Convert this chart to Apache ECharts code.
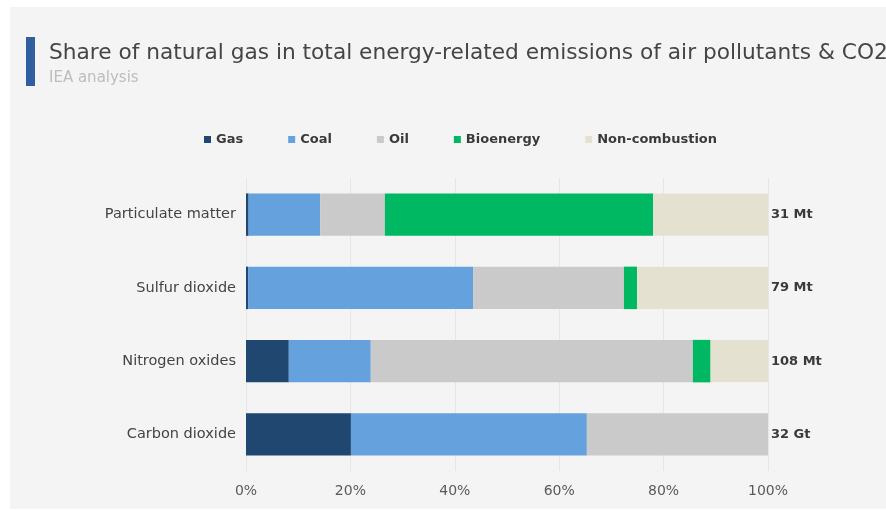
<!DOCTYPE html>
<html>
<head>
<meta charset="utf-8">
<script src="https://cdn.jsdelivr.net/npm/echarts@6/dist/echarts.min.js"></script>
<style>
  html, body { margin: 0; padding: 0; background: #ffffff; }
  #panel { position: absolute; left: 10px; top: 7px; width: 876px; height: 502px; background: #f4f4f4; }
  #chart { position: absolute; left: 0; top: 0; width: 886px; height: 510px; }
</style>
</head>
<body>
<div id="panel"></div>
<div id="chart"></div>
<script>
// Pollutants, top to bottom
const categories = ['Particulate matter', 'Sulfur dioxide', 'Nitrogen oxides', 'Carbon dioxide'];
// Share of each source in total emissions (%)
const gas = [0.5, 0.4, 8.2, 20.1];
const coal = [13.7, 43.1, 15.7, 45.2];
const oil = [12.4, 28.9, 61.7, 34.7];
const bioenergy = [51.4, 2.5, 3.4, 0];
const nonCombustion = [22.0, 25.1, 11.0, 0];
// Total emissions shown beside each bar
const totals = ['31 Mt', '79 Mt', '108 Mt', '32 Gt'];
const xTicks = [0, 20, 40, 60, 80, 100];

const FONT = 'DejaVu Sans';
const sources = [
  { name: 'Gas', data: gas, color: '#1f4770' },
  { name: 'Coal', data: coal, color: '#64a1dd' },
  { name: 'Oil', data: oil, color: '#cacaca' },
  { name: 'Bioenergy', data: bioenergy, color: '#00b862' },
  { name: 'Non-combustion', data: nonCombustion, color: '#e5e1d0' }
];

const chart = echarts.init(document.getElementById('chart'), null, { renderer: 'canvas' });
chart.setOption({
  backgroundColor: 'transparent',
  textStyle: { fontFamily: FONT },
  animation: false,
  title: {
    text: 'Share of natural gas in total energy-related emissions of air pollutants & CO2',
    subtext: 'IEA analysis',
    left: 44,
    top: 37,
    itemGap: 7,
    textStyle: { fontFamily: FONT, fontSize: 21.7, fontWeight: 'normal', color: '#454545' },
    subtextStyle: { fontFamily: FONT, fontSize: 15, color: '#bdbdbd' }
  },
  graphic: [{
    type: 'rect',
    shape: { x: 26, y: 37, width: 9, height: 49 },
    style: { fill: '#2f5f9f' }
  }],
  legend: {
    left: 199,
    top: 128,
    icon: 'rect',
    itemWidth: 7,
    itemHeight: 7,
    itemGap: 45,
    textStyle: { fontFamily: FONT, fontSize: 13, color: '#3a3a3a', fontWeight: 'bold' },
    data: sources.map(s => s.name)
  },
  grid: { left: 246, right: 118, top: 178, bottom: 39, containLabel: false },
  xAxis: {
    type: 'value',
    min: xTicks[0],
    max: xTicks[xTicks.length - 1],
    interval: xTicks[1] - xTicks[0],
    axisLine: { show: false },
    axisTick: { show: false },
    axisLabel: { formatter: '{value}%', color: '#5a5a5a', fontSize: 14, margin: 13 },
    splitLine: { lineStyle: { color: '#e6e6e6', width: 1 } }
  },
  yAxis: [{
    type: 'category',
    data: categories,
    inverse: true,
    axisLine: { show: false },
    axisTick: { show: false },
    axisLabel: { color: '#444', fontSize: 14.5, margin: 10 }
  }, {
    type: 'category',
    data: totals,
    inverse: true,
    position: 'right',
    axisLine: { show: false },
    axisTick: { show: false },
    axisLabel: { color: '#3a3a3a', fontSize: 13, fontWeight: 'bold', margin: 3 }
  }],
  series: sources.map(s => ({
    name: s.name,
    type: 'bar',
    stack: 'total',
    yAxisIndex: 0,
    barCategoryGap: '42%',
    data: s.data,
    itemStyle: { color: s.color },
    emphasis: { disabled: true }
  }))
});
</script>
</body>
</html>
